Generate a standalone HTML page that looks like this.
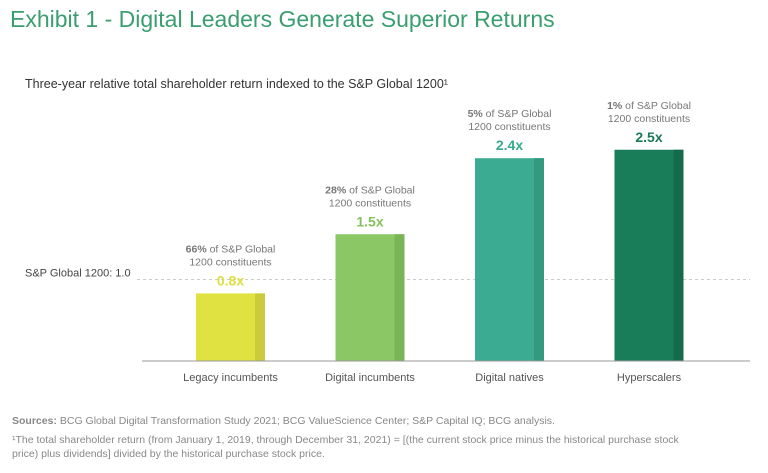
<!DOCTYPE html>
<html><head><meta charset="utf-8"><style>
body{margin:0;width:768px;height:473px;background:#fff;font-family:"Liberation Sans",sans-serif;overflow:hidden;position:relative}
.t{position:absolute;white-space:nowrap}
</style></head><body>
<div class="t" style="left:10px;top:6px;font-size:23px;color:#3a9e70">Exhibit 1 - Digital Leaders Generate Superior Returns</div>
<div class="t" style="left:25px;top:77px;font-size:12.5px;color:#333">Three-year relative total shareholder return indexed to the S&amp;P Global 1200¹</div>
<svg id="chart" width="768" height="473" style="position:absolute;left:0;top:0"></svg>
<div class="t" style="left:12px;top:415px;font-size:10.5px;color:#888"><b>Sources:</b> BCG Global Digital Transformation Study 2021; BCG ValueScience Center; S&amp;P Capital IQ; BCG analysis.</div>
<div class="t" style="left:12px;top:434px;font-size:10.5px;line-height:13.5px;color:#888;white-space:normal;width:690px">¹The total shareholder return (from January 1, 2019, through December 31, 2021) = [(the current stock price minus the historical purchase stock price) plus dividends] divided by the historical purchase stock price.</div>
<script>
const categories=["Legacy incumbents","Digital incumbents","Digital natives","Hyperscalers"];
const values=[0.8,1.5,2.4,2.5];
const valueLabels=["0.8x","1.5x","2.4x","2.5x"];
const shares=["66%","28%","5%","1%"];
const refValue=1.0;
const colors=["#dfe241","#8bc765","#3bab91","#1a7d59"];
const darks=["#cbcc3c","#79b457","#33997f","#156a4b"];
const labelColors=["#dde043","#84c25c","#38a98c","#1a7a56"];
const NS="http://www.w3.org/2000/svg";
const svg=document.getElementById('chart');
const base=361,scale=84.5,x0=196,step=139.5,bw=69;
const y=v=>base-v*scale;
const x=i=>x0+i*step;
function mk(t,a,txt){const e=document.createElementNS(NS,t);for(const k in a)e.setAttribute(k,a[k]);if(txt!=null)e.textContent=txt;svg.appendChild(e);return e;}
const rl=mk('line',{x1:137,x2:750,y1:y(refValue)+3,y2:y(refValue)+3,stroke:'#ccc','stroke-dasharray':'3,3'});

const rt=mk('text',{x:25,y:y(refValue)+0,'font-size':11,fill:'#444','font-family':'Liberation Sans'},'S&P Global 1200: 1.0');

values.forEach((v,i)=>{
 const g=mk('g',{});
 
 
 const bx=x(i),top=y(v);
 const r=document.createElementNS(NS,'rect');r.setAttribute('x',bx);r.setAttribute('y',top);r.setAttribute('width',bw);r.setAttribute('height',base-top);r.setAttribute('fill',colors[i]);g.appendChild(r);
 const r2=document.createElementNS(NS,'rect');r2.setAttribute('x',bx+bw-10);r2.setAttribute('y',top);r2.setAttribute('width',10);r2.setAttribute('height',base-top);r2.setAttribute('fill',darks[i]);g.appendChild(r2);
 const cx=bx+bw/2;
 const vl=mk('text',{x:cx,y:top-8,'text-anchor':'middle','font-size':14,'font-weight':'bold',fill:labelColors[i],'font-family':'Liberation Sans'},valueLabels[i]);
 
 const s1=mk('text',{x:cx,y:top-41,'text-anchor':'middle','font-size':10.5,fill:'#777','font-family':'Liberation Sans'});
 
 const b=document.createElementNS(NS,'tspan');b.setAttribute('font-weight','bold');b.textContent=shares[i];s1.appendChild(b);
 s1.appendChild(document.createTextNode(' of S&P Global'));
 const s2=mk('text',{x:cx,y:top-28,'text-anchor':'middle','font-size':10.5,fill:'#777','font-family':'Liberation Sans'},'1200 constituents');
 
 const cl=mk('text',{x:cx,y:381,'text-anchor':'middle','font-size':11,fill:'#555','font-family':'Liberation Sans'},categories[i]);
 
});
const ax=mk('line',{x1:142,x2:750,y1:base,y2:base,stroke:'#999','stroke-width':1});

</script>
</body></html>
